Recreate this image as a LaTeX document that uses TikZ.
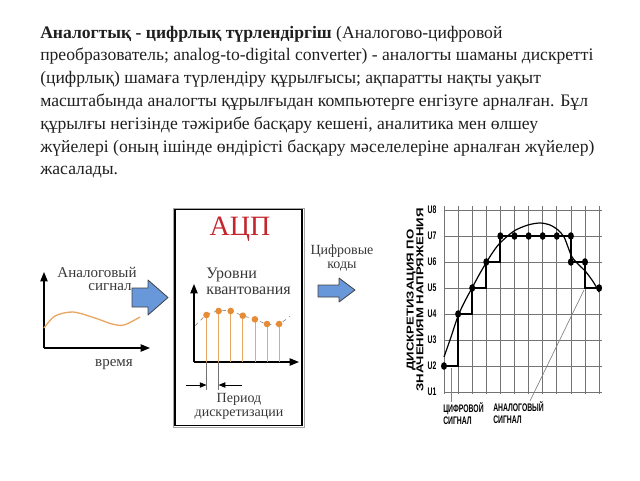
\documentclass[tikz,border=0pt]{standalone}
\usepackage{fontspec}
\setmainfont{Liberation Serif}
\newfontfamily\narrowsans[FakeStretch=0.62]{Liberation Sans}
\newfontfamily\widesans[FakeStretch=1.32]{Liberation Sans}
\usepackage{xcolor}
\usepackage{tikz}
\usetikzlibrary{arrows.meta,positioning}

\definecolor{sigorange}{RGB}{232,168,100}
\definecolor{dotorange}{RGB}{230,140,55}
\definecolor{adcred}{RGB}{196,38,45}
\definecolor{arrowblue}{RGB}{104,152,218}

\begin{document}
\begin{tikzpicture}[x=0.75pt, y=-0.75pt,
  every node/.style={inner sep=0pt},
  paraline/.style={font=\fontsize{13.2}{17}\selectfont, text=black!88, anchor=base west},
  lbl/.style={font=\fontsize{11.25}{13}\selectfont, text=black!78},
  graphlbl/.style={font=\narrowsans\bfseries\fontsize{8.25}{9.5}\selectfont, align=left},
  gridline/.style={black!55, line width=0.6pt},
  axisarrow/.style={line width=0.9pt, -{Triangle[length=7pt,width=5.5pt]}},
  blockarrow/.style={draw=black!75, fill=arrowblue, line width=0.6pt, line join=round},
  declare function={gx(\c)=444+14.1*\c; gy(\k)=392-26*(\k-1);}]
\useasboundingbox (0,0) rectangle (640,480);

% text block
\foreach \ln [count=\i from 0] in {%
  {\textbf{Аналогтық - цифрлық түрлендіргіш} (Аналогово-цифровой},
  {преобразователь; analog-to-digital converter) - аналогты шаманы дискретті},
  {(цифрлық) шамаға түрлендіру құрылғысы; ақпаратты нақты уақыт},
  {масштабында аналогты құрылғыдан компьютерге енгізуге арналған. Бұл},
  {құрылғы негізінде тәжірибе басқару кешені, аналитика мен өлшеу},
  {жүйелері (оның ішінде өндірісті басқару мәселелеріне арналған жүйелер)},
  {жасалады.}}
  \node[paraline] (para\i) at (40,{38+22.8*\i}) {\ln};

% analog input
\coordinate (inorig) at (44,348);
\draw[axisarrow] (inorig) -- (44,272);
\draw[axisarrow] (inorig) -- (150,348);
\draw[sigorange, line width=1pt] plot[smooth] coordinates
  {(44,328) (55,316) (73,312) (95,318) (112,324) (124,325) (140,317)};
\node[lbl] (inname) at (97,272) {Аналоговый};
\node[lbl] (inname2) at (110,287) {сигнал};
\node[lbl] (intime) at (114,365) {время};
\filldraw[blockarrow] (132,288) -- (148,288) -- (148,280) -- (168,297.5)
  -- (148,315) -- (148,307) -- (132,307) -- cycle;

% ADC block
\draw[black!35, line width=0.5pt] (173,208) rectangle (304,427);
\node[draw, line width=1.1pt, minimum width=95.25pt, minimum height=162pt]
  (adcbox) at (238.5,317.5) {};
\node[font=\fontsize{21}{21}\selectfont, text=adcred] (adctitle) at (240,229) {АЦП};
\node[lbl, anchor=west, align=left, font=\fontsize{12}{12}\selectfont] (levels)
  at (206,281) {Уровни\\квантования};
\coordinate (adcorig) at (194,362);
\draw[axisarrow] (adcorig) -- (194,284);
\draw[axisarrow] (adcorig) -- (299,362);
\draw[black!45, dashed, line width=0.5pt] plot[smooth] coordinates
  {(195,326) (206.5,315) (218.6,311) (230.7,311) (242.8,315.7) (254.9,319.3)
   (267,324) (279.1,324) (290,316)};
\def\sampy{{315,311,311,315.7,319.3,324,324}}
\foreach \i in {0,...,6} {
  \pgfmathsetmacro{\sx}{206.5+12.1*\i}
  \pgfmathsetmacro{\sy}{\sampy[\i]}
  \draw[sigorange, line width=0.6pt] (\sx,362) -- (\sx,\sy);
  \fill[dotorange] (\sx,\sy) circle (3.3);
}
% sampling period
\draw[black!55, line width=0.5pt] (206.5,362) -- (206.5,390);
\draw[black!55, line width=0.5pt] (218.6,362) -- (218.6,390);
\coordinate (perl) at (186,385);
\coordinate (perr) at (242,385);
\draw[line width=0.6pt, -{Triangle[length=5pt,width=4pt]}] (perl) -- (206.5,385);
\draw[line width=0.6pt, -{Triangle[length=5pt,width=4pt]}] (perr) -- (218.6,385);
\node[lbl, align=center, font=\fontsize{10.5}{10.5}\selectfont] (pername)
  at (239,406) {Период\\дискретизации};

% digital output
\node[lbl, align=center, font=\fontsize{10.5}{10}\selectfont] (outname) at (342,258)
  {Цифровые\\коды};
\filldraw[blockarrow] (318,285) -- (339,285) -- (339,278) -- (355,290)
  -- (339,302) -- (339,297) -- (318,297) -- cycle;

% quantization graph
\foreach \c in {0,...,11}
  \draw[gridline] ({gx(\c)},206) -- ({gx(\c)},394);
\foreach \k in {1,...,8} {
  \draw[gridline] (444,{gy(\k)}) -- (602,{gy(\k)});
  \node[graphlbl] (u\k) at (432,{gy(\k)}) {U\k};
}
\node[font=\widesans\bfseries\fontsize{7.5}{7.4}\selectfont, rotate=90, align=center]
  (yname) at (415,300) {ДИСКРЕТИЗАЦИЯ ПО\\ЗНАЧЕНИЯМ НАПРЯЖЕНИЯ};
\draw[line width=0.9pt] plot[smooth] coordinates
  {(444,357) (451,337) (458,316) (465,301) (472,288) (479,275) (486,263)
   (493,252) (500,243) (514,231) (528,225) (540,223) (550,225) (558,230)
   (564,237) (568,247) (572,257) (578,264) (586,272) (594,283) (599,292)};
\draw[line width=1.6pt] ({gx(0)},{gy(2)}) -- ({gx(1)},{gy(2)}) -- ({gx(1)},{gy(4)})
  -- ({gx(2)},{gy(4)}) -- ({gx(2)},{gy(5)}) -- ({gx(3)},{gy(5)}) -- ({gx(3)},{gy(6)})
  -- ({gx(4)},{gy(6)}) -- ({gx(4)},{gy(7)}) -- ({gx(9)},{gy(7)}) -- ({gx(9)},{gy(6)})
  -- ({gx(10)},{gy(6)}) -- ({gx(10)},{gy(5)}) -- ({gx(11)},{gy(5)});
\foreach \c/\k in {0/2,1/4,2/5,3/6,4/7,5/7,6/7,7/7,8/7,9/7,9/6,10/6,11/5}
  \fill ({gx(\c)},{gy(\k)}) ellipse (3 and 3.8);

\node[graphlbl, anchor=north west] (digname) at (443,402) {ЦИФРОВОЙ\\СИГНАЛ};
\node[graphlbl, anchor=north west] (ananame) at (493,401) {АНАЛОГОВЫЙ\\СИГНАЛ};
\coordinate (digpt) at (451,368);
\coordinate (anapt) at (584,290);
\draw[black!50, line width=0.5pt] (digpt) -- (digpt |- digname.north);
\draw[black!50, line width=0.5pt] (anapt) -- (530,401);
\end{tikzpicture}
\end{document}
